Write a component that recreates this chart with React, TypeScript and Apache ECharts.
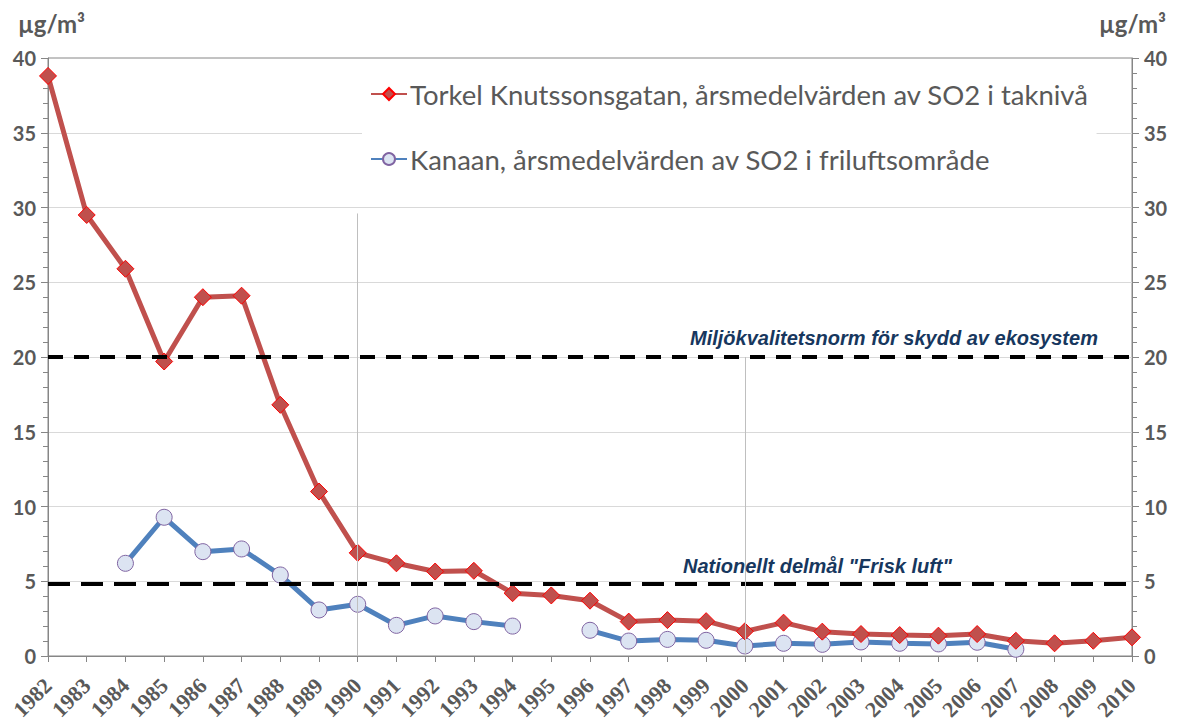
import React, { useEffect, useRef } from "react";
import * as echarts from "echarts";

const years = [
  "1982","1983","1984","1985","1986","1987","1988","1989","1990","1991",
  "1992","1993","1994","1995","1996","1997","1998","1999","2000","2001",
  "2002","2003","2004","2005","2006","2007","2008","2009","2010",
];

const torkelValues = [
  38.8, 29.5, 25.9, 19.7, 24.0, 24.1, 16.8, 11.0, 6.9, 6.2,
  5.65, 5.7, 4.2, 4.05, 3.7, 2.3, 2.4, 2.33, 1.65, 2.23,
  1.63, 1.47, 1.4, 1.36, 1.47, 1.02, 0.85, 1.02, 1.25,
];

const kanaanValues: (number | null)[] = [
  null, null, 6.2, 9.28, 6.98, 7.16, 5.42, 3.08, 3.46, 2.05,
  2.68, 2.3, 2.0, null, 1.72, 1.0, 1.11, 1.05, 0.67, 0.85,
  0.78, 0.94, 0.85, 0.81, 0.92, 0.45, null, null, null,
];

const seriesNames = [
  "Torkel Knutssonsgatan, årsmedelvärden av SO2 i taknivå",
  "Kanaan, årsmedelvärden av SO2 i friluftsområde",
];

const limitValues = [20, 4.8];
const limitLabels = [
  "Miljökvalitetsnorm för skydd av ekosystem",
  'Nationellt delmål "Frisk luft"',
];

const refYears = ["1990", "2000"];
const refTops = [29.6, 20];

const yTicks = { min: 0, max: 40, interval: 5 };
const unitLabel = "µg/m³";

export default function App() {
  const ref = useRef<HTMLDivElement>(null);

  useEffect(() => {
    if (!ref.current) return;
    const chart = echarts.init(ref.current, undefined, { renderer: "svg" });

    const axisColor = "#868686";
    const labelColor = "#595959";

    const yAxisBase = {
      type: "value",
      min: yTicks.min,
      max: yTicks.max,
      interval: yTicks.interval,
      axisLine: { show: true, lineStyle: { color: axisColor, width: 1 } },
      axisTick: { show: true, length: 7, lineStyle: { color: axisColor } },
      minorTick: { show: true, splitNumber: 5, length: 5, lineStyle: { color: axisColor } },
      axisLabel: {
        color: labelColor,
        fontFamily: "Lato",
        fontWeight: "bold",
        fontSize: 20,
        margin: 12,
      },
    };

    chart.setOption({
      animation: false,
      backgroundColor: "#ffffff",
      grid: {
        left: 48,
        right: 51,
        top: 58,
        bottom: 69,
        containLabel: false,
        outerBoundsMode: "none",
        show: true,
        borderColor: axisColor,
        borderWidth: 1,
        backgroundColor: "transparent",
      },
      legend: {
        orient: "vertical",
        left: 362,
        top: 70,
        data: seriesNames,
        backgroundColor: "#ffffff",
        padding: [8, 8, 8, 8],
        itemWidth: 36,
        itemHeight: 15,
        itemGap: 33,
        selectedMode: false,
        textStyle: {
          color: labelColor,
          fontFamily: "Lato",
          fontSize: 27.5,
          lineHeight: 32,
          padding: [0, 0, 0, -2],
        },
      },
      xAxis: {
        type: "category",
        data: years,
        boundaryGap: false,
        axisLine: { show: true, lineStyle: { color: axisColor, width: 1 } },
        axisTick: { show: true, interval: 0, length: 6, lineStyle: { color: axisColor } },
        splitLine: { show: false },
        axisLabel: {
          interval: 0,
          rotate: 45,
          margin: 26,
          color: labelColor,
          fontFamily: "Liberation Serif",
          fontWeight: "bold",
          fontSize: 22,
        },
      },
      yAxis: [
        {
          ...yAxisBase,
          position: "left",
          splitLine: { show: true, showMaxLine: false, lineStyle: { color: "#D9D9D9", width: 1 } },
        },
        {
          ...yAxisBase,
          position: "right",
          splitLine: { show: false },
        },
      ],
      graphic: [
        {
          type: "text",
          left: 18,
          top: 11,
          style: { text: unitLabel, fill: labelColor, font: "bold 24px Lato" },
        },
        {
          type: "text",
          left: 1099,
          top: 11,
          style: { text: unitLabel, fill: labelColor, font: "bold 24px Lato" },
        },
        {
          type: "text",
          left: 690,
          top: 328,
          z: 10,
          style: {
            text: limitLabels[0],
            fill: "#17375E",
            font: "italic bold 20px 'Liberation Sans'",
          },
        },
        {
          type: "text",
          left: 683,
          top: 556,
          z: 10,
          style: {
            text: limitLabels[1],
            fill: "#17375E",
            font: "italic bold 20px 'Liberation Sans'",
          },
        },
      ],
      series: [
        {
          name: "refs",
          type: "line",
          data: years.map(() => null),
          z: 1,
          silent: true,
          symbol: "none",
          markLine: {
            silent: true,
            symbol: "none",
            label: { show: false },
            animation: false,
            data: [
              ...limitValues.map((v, i) => ({
                yAxis: v,
                lineStyle: {
                  color: "#000000",
                  width: 4,
                  type: i === 0 ? [15, 11] : [22, 11],
                },
              })),
              ...refYears.map((yr, i) => [
                { coord: [yr, 0], lineStyle: { color: "#BFBFBF", width: 1, type: "solid" } },
                { coord: [yr, refTops[i]] },
              ]),
            ],
          },
        },
        {
          name: seriesNames[0],
          type: "line",
          data: torkelValues,
          z: 4,
          symbol: "diamond",
          symbolSize: 17,
          lineStyle: { color: "#C0504D", width: 5 },
          itemStyle: { color: "#C0504D", borderColor: "#FF0000", borderWidth: 1 },
        },
        {
          name: seriesNames[1],
          type: "line",
          data: kanaanValues,
          z: 3,
          connectNulls: false,
          symbol: "circle",
          symbolSize: 16,
          lineStyle: { color: "#4F81BD", width: 5 },
          itemStyle: { color: "#DCE4F2", borderColor: "#8064A2", borderWidth: 1 },
        },
      ],
    });

    return () => chart.dispose();
  }, []);

  return (
    <div
      ref={ref}
      style={{ position: "fixed", left: 0, top: 0, width: 1183, height: 725 }}
    />
  );
}
